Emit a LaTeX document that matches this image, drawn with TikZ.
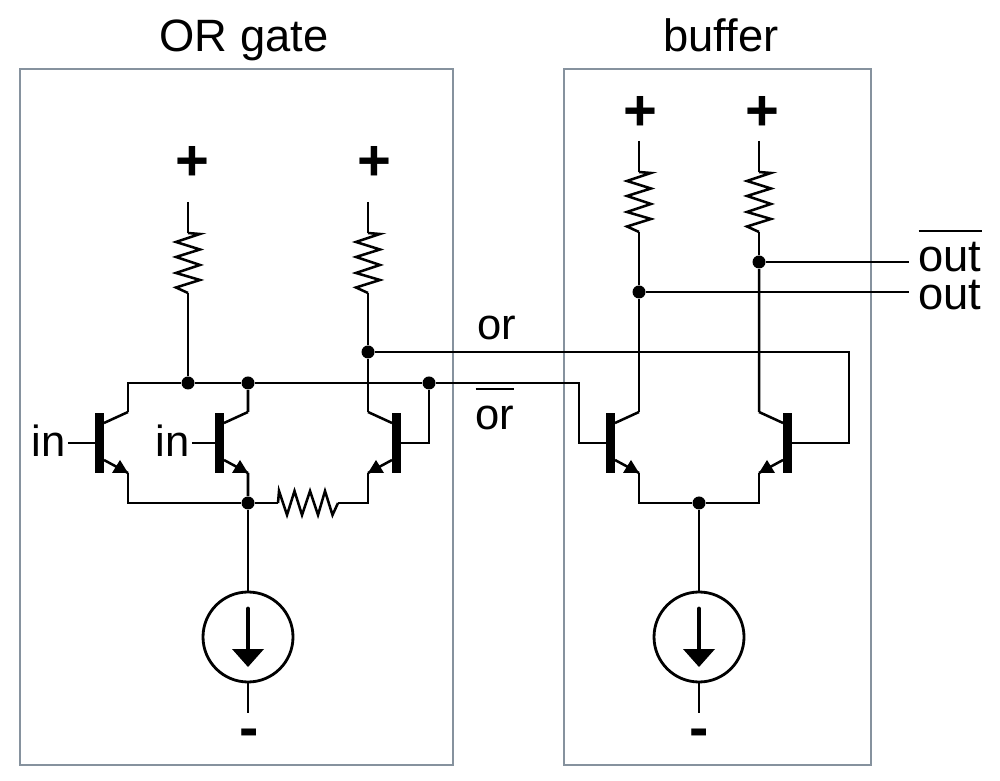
\documentclass[tikz,border=0pt]{standalone}
\usepackage{amsmath}
\usepackage{fontspec}
\setmainfont{Liberation Sans}
\usetikzlibrary{
    arrows.meta,
    calc
}

\definecolor{boxgray}{HTML}{86929E}

% Text with a bar over it
\newlength{\barlen}
\newcommand{\barred}[1]{\settowidth{\barlen}{#1}\rlap{\raisebox{0.4cm}{\rule{\barlen}{0.6pt}}}#1}

\tikzset{
    wire/.style={line width=0.72pt},
    panel/.style={draw=boxgray, line width=0.4pt},
    jdot/.style={circle, fill=black, inner sep=0pt, minimum size=0.13cm},
    title/.style={anchor=base, font=\fontsize{12.9}{15}\selectfont},
    sig/.style={anchor=base, inner sep=0.5pt, font=\fontsize{12.4}{15}\selectfont},
    rail/.style={font=\fontsize{16.5}{18}\selectfont\bfseries},
    npn/.pic={
        \fill (-0.045,-0.30) rectangle (0.045,0.30);
        \coordinate (-b) at (-0.045,0);
        \coordinate (-c) at (0.285,0.31);
        \coordinate (-e) at (0.285,-0.30);
        \draw[wire] (0.045,0.20) -- (-c);
        \draw[wire] (0.045,-0.17) -- (-e);
        \fill (-e) -- (0.125,-0.30) -- (0.205,-0.17) -- cycle;
    },
    resistor/.pic={
        \coordinate (-a) at (0,0);
        \coordinate (-z) at (0,-0.60);
        \draw[wire] (-a) -- (0.12,-0.01) -- (-0.12,-0.09) -- (0.12,-0.165) -- (-0.12,-0.24)
            -- (0.12,-0.32) -- (-0.12,-0.40) -- (0.12,-0.47) -- (-0.12,-0.545) -- (-z);
    },
    isource/.pic={
        \coordinate (-t) at (0,0.45);
        \coordinate (-m) at (0,-0.45);
        \draw[line width=0.8pt] (0,0) circle (0.45);
        \draw[line width=1.4pt, line cap=round] (0,0.28) -- (0,-0.14);
        \fill (-0.16,-0.12) -- (0.16,-0.12) -- (0,-0.30) -- cycle;
    }
}

\begin{document}
\begin{tikzpicture}

\useasboundingbox (0,0) rectangle (10,7.8);

% Panels
\draw[panel] (0.20,0.15) rectangle (4.53,7.11);
\draw[panel] (5.64,0.15) rectangle (8.71,7.11);
\node[title] (ortitle) at (2.44,7.28) {OR gate};
\node[title] (buftitle) at (7.21,7.28) {buffer};

% Transistors
\pic (qa) at (0.995,3.37) {npn};
\pic (qb) at (2.195,3.37) {npn};
\pic[xscale=-1] (qc) at (3.965,3.37) {npn};
\pic (qd) at (6.105,3.37) {npn};
\pic[xscale=-1] (qe) at (7.875,3.37) {npn};

% Resistors
\pic (ra) at (1.88,5.47) {resistor};
\pic (rb) at (3.68,5.47) {resistor};
\pic[rotate=90] (rc) at (2.78,2.77) {resistor};
\pic (rd) at (6.39,6.08) {resistor};
\pic (re) at (7.59,6.08) {resistor};

% Current sources
\pic (ia) at (2.48,1.43) {isource};
\pic (ib) at (6.99,1.43) {isource};

% Junctions
\node[jdot] (ja) at (1.88,3.97) {};
\node[jdot] (jb) at (2.48,3.97) {};
\node[jdot] (jc) at (4.29,3.97) {};
\node[jdot] (jd) at (3.68,4.28) {};
\node[jdot] (je) at (2.48,2.77) {};
\node[jdot] (jf) at (6.99,2.77) {};
\node[jdot] (jg) at (6.39,4.88) {};
\node[jdot] (jh) at (7.59,5.18) {};

% Free ends
\coordinate (topa) at (1.88,5.78);
\coordinate (topb) at (3.68,5.78);
\coordinate (topd) at (6.39,6.39);
\coordinate (tope) at (7.59,6.39);
\coordinate (enda) at (2.48,0.67);
\coordinate (endb) at (6.99,0.67);
\coordinate (orbar) at (5.79,3.97);
\coordinate (orline) at (8.49,4.28);
\coordinate (outa) at (9.09,4.88);
\coordinate (outb) at (9.09,5.18);

% OR gate wiring
\draw[wire] (topa) -- (ra-a);
\draw[wire] (ra-z) -- (ja);
\draw[wire] (topb) -- (rb-a);
\draw[wire] (rb-z) -- (jd);
\draw[wire] (jd) -- (qc-c);
\draw[wire] (qa-c) |- (ja);
\draw[wire] (ja) -- (jb);
\draw[wire] (jb) -- (qb-c);
\draw[wire] (jb) -- (jc);
\draw[wire] (qc-b) -| (jc);
\draw[wire] (qa-e) |- (je);
\draw[wire] (qb-e) -- (je);
\draw[wire] (je) -- (rc-a);
\draw[wire] (rc-z) -| (qc-e);
\draw[wire] (je) -- (ia-t);
\draw[wire] (ia-m) -- (enda);

% Between the panels
\draw[wire] (jc) -- (orbar) |- (qd-b);
\draw[wire] (jd) -- (orline) |- (qe-b);

% Buffer wiring
\draw[wire] (topd) -- (rd-a);
\draw[wire] (rd-z) -- (jg);
\draw[wire] (jg) -- (qd-c);
\draw[wire] (tope) -- (re-a);
\draw[wire] (re-z) -- (jh);
\draw[wire] (jh) -- (qe-c);
\draw[wire] (jg) -- (outa);
\draw[wire] (jh) -- (outb);
\draw[wire] (qd-e) |- (jf);
\draw[wire] (qe-e) |- (jf);
\draw[wire] (jf) -- (ib-t);
\draw[wire] (ib-m) -- (endb);

% Inputs
\node[sig] (ina) at (0.485,3.23) {in};
\node[sig] (inb) at (1.725,3.23) {in};
\draw[wire] (ina.east |- qa-b) -- (qa-b);
\draw[wire] (inb.east |- qb-b) -- (qb-b);

% Labels
\node[sig] (orlab) at (4.97,4.40) {or};
\node[sig] (norlab) at (4.95,3.50) {\barred{or}};
\node[title] (outlab) at (9.50,4.70) {out};
\node[title] (noutlab) at (9.50,5.08) {\barred{out}};

% Supplies
\node[rail] (pa) at (1.92,6.16) {+};
\node[rail] (pb) at (3.74,6.16) {+};
\node[rail] (pd) at (6.40,6.66) {+};
\node[rail] (pe) at (7.62,6.66) {+};
\node[rail] (ma) at (2.49,0.42) {-};
\node[rail] (mb) at (6.99,0.42) {-};

\end{tikzpicture}
\end{document}
